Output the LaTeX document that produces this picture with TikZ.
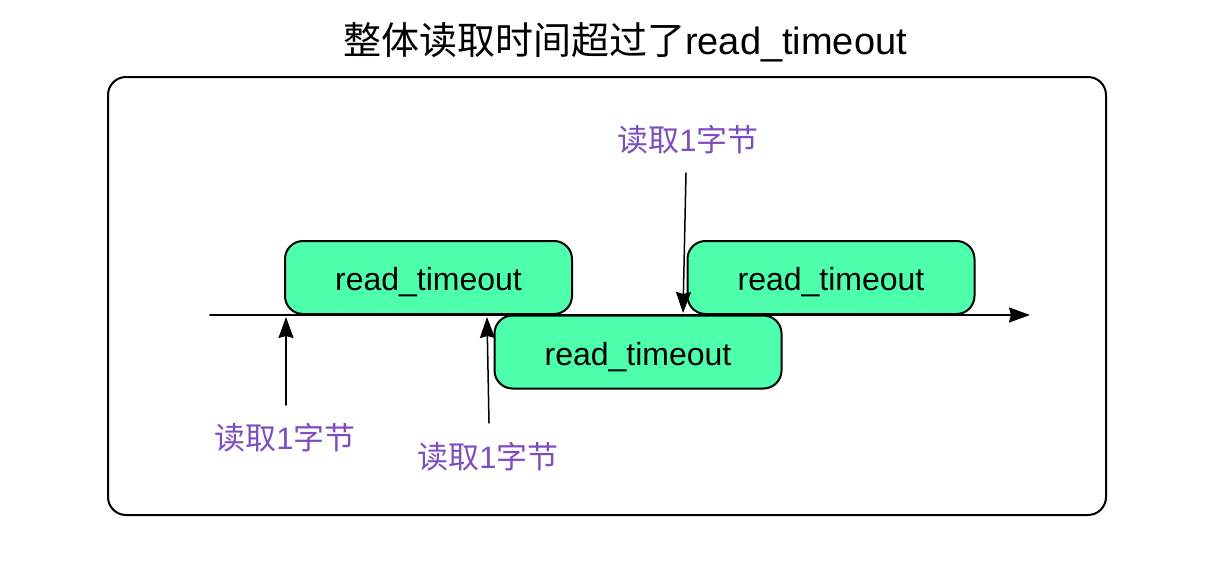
\documentclass[tikz,border=0pt]{standalone}
\usepackage{fontspec}
\setmainfont{Liberation Sans}
\newfontfamily\cjk{Noto Sans CJK SC}
\usetikzlibrary{arrows.meta}
\definecolor{tmgreen}{RGB}{77,255,170}
\definecolor{bytepurple}{RGB}{126,78,190}
\newcommand{\readbyte}{{\cjk 读取}1{\cjk 字节}}
\begin{document}
\begin{tikzpicture}[x=0.5pt,y=-0.5pt,line join=round,line cap=round,>={Stealth[length=10.5pt,width=7.5pt,inset=1pt]},
	tbox/.style={draw,line width=1pt,fill=tmgreen,rounded corners=9pt,outer sep=0pt,
		minimum width=143.5pt,minimum height=36.5pt,text height=13pt,text depth=0pt,
		font=\fontsize{16}{18}\selectfont},
	bytelbl/.style={text=bytepurple,inner sep=0pt,font=\fontsize{15.5}{17}\selectfont}]
	\def \axisy{315};
	\useasboundingbox (0,0) rectangle (1216,562);
	% frame and title
	\draw[line width=1pt,rounded corners=9pt] (108,77) rectangle (1106,515);
	\node[font=\fontsize{19}{21}\selectfont] (title) at (625,42) {{\cjk 整体读取时间超过了}read\_timeout};
	% time axis
	\coordinate (axisL) at (210,\axisy);
	\coordinate (axisR) at (1030,\axisy);
	\draw[->,line width=1pt] (axisL) -- (axisR);
	% timeout windows
	\node[tbox] (win1) at (428.5,277.5) {read\_timeout};
	\node[tbox] (win2) at (638,352) {read\_timeout};
	\node[tbox] (win3) at (831,277.5) {read\_timeout};
	% byte reads
	\node[bytelbl] (read1) at (285,438) {\readbyte};
	\node[bytelbl] (read2) at (488,457) {\readbyte};
	\node[bytelbl] (read3) at (688,140) {\readbyte};
	\coordinate (tail1) at (286,405);
	\coordinate (tip1) at (286,317);
	\coordinate (tail2) at (489,423);
	\coordinate (tip2) at (487,317);
	\coordinate (tail3) at (686,173);
	\coordinate (tip3) at (683,313);
	\draw[->,line width=0.75pt] (tail1) -- (tip1);
	\draw[->,line width=0.75pt] (tail2) -- (tip2);
	\draw[->,line width=0.75pt] (tail3) -- (tip3);
\end{tikzpicture}
\end{document}
